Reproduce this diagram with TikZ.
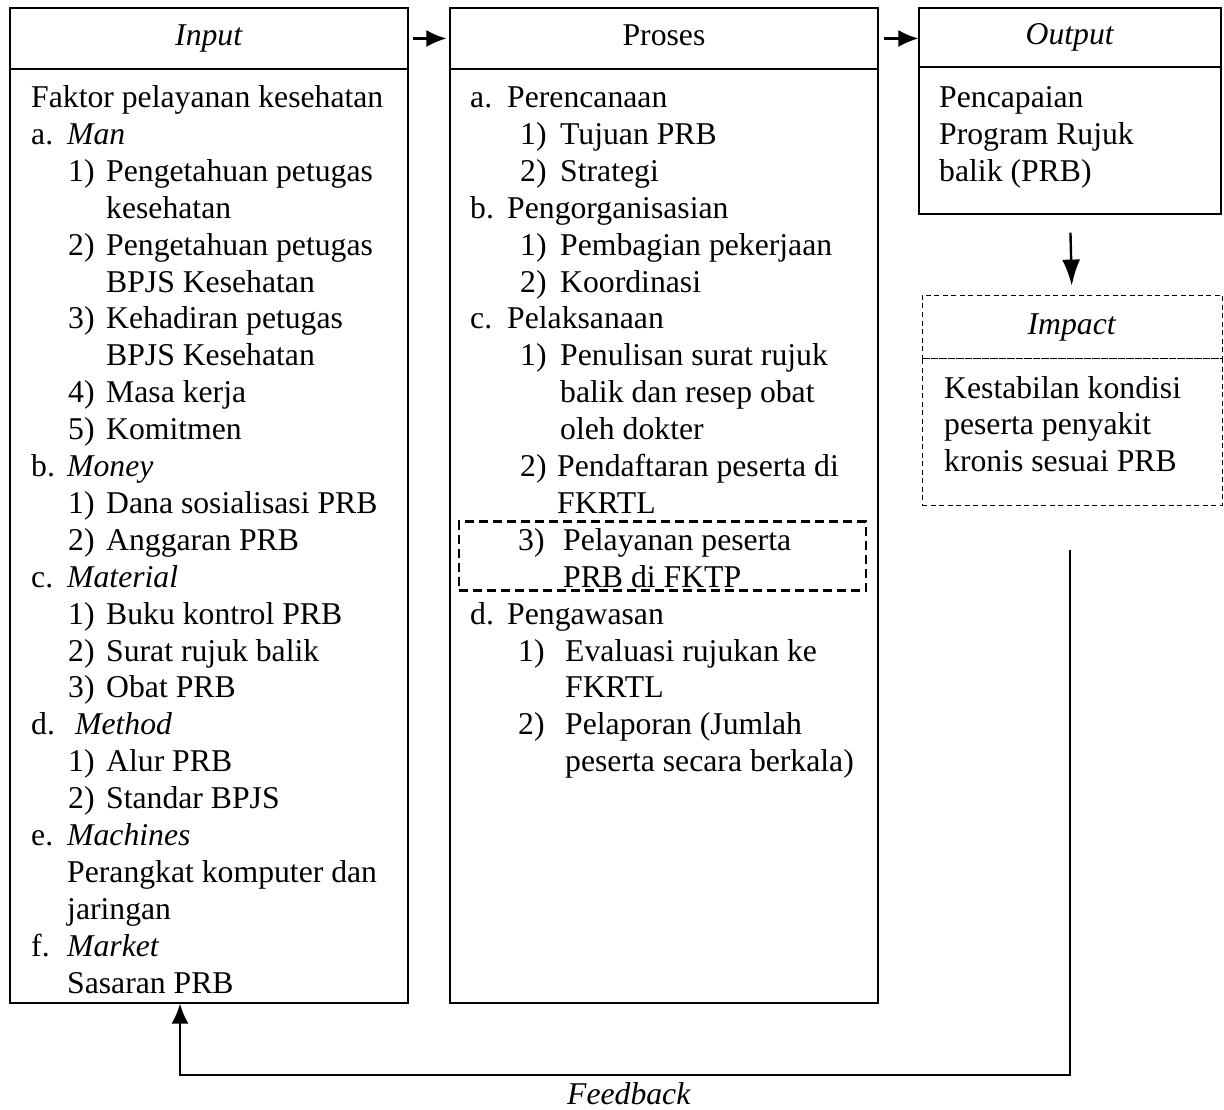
\documentclass[tikz,border=0pt]{standalone}
\usepackage{fontspec}
\setmainfont{Liberation Serif}
\usetikzlibrary{arrows.meta}
\tikzset{
  box/.style={draw, line width=1.2pt, inner sep=0pt, text height=22pt, text depth=7pt, font=\fontsize{31.7}{36}\selectfont},
  txt/.style={anchor=base west, inner sep=0pt, font=\fontsize{31.7}{36}\selectfont},
  arr/.style={line width=2.4pt, -{Latex[length=20pt,width=17pt]}}
}

\begin{document}
\begin{tikzpicture}[x=1pt,y=-1pt]
\useasboundingbox[fill=white] (0,0) rectangle (1224,1110);
% input
\node[box, minimum width=398pt, minimum height=61pt] (inhead) at (209,38.5) {\textit{Input}};
\node[box, minimum width=398pt, minimum height=934pt] (inbody) at (209,536) {};
\foreach \a/\b/\c/\d [count=\i] in {
 31//31/Faktor pelayanan kesehatan,
 31/a./67/\textit{Man},
 68/1)/106/Pengetahuan petugas,
 68//106/kesehatan,
 68/2)/106/Pengetahuan petugas,
 68//106/BPJS Kesehatan,
 68/3)/106/Kehadiran petugas,
 68//106/BPJS Kesehatan,
 68/4)/106/Masa kerja,
 68/5)/106/Komitmen,
 31/b./67/\textit{Money},
 68/1)/106/Dana sosialisasi PRB,
 68/2)/106/Anggaran PRB,
 31/c./67/\textit{Material},
 68/1)/106/Buku kontrol PRB,
 68/2)/106/Surat rujuk balik,
 68/3)/106/Obat PRB,
 31/d./75/\textit{Method},
 68/1)/106/Alur PRB,
 68/2)/106/Standar BPJS,
 31/e./67/\textit{Machines},
 67//67/Perangkat komputer dan,
 67//67/jaringan,
 31/f./67/\textit{Market},
 67//67/Sasaran PRB}{
  \pgfmathsetmacro\yy{70.6+36.9*\i}
  \node[txt] (inA\i) at (\a,\yy) {\b};
  \node[txt] (inB\i) at (\c,\yy) {\d};
}
% proses
\node[box, minimum width=428pt, minimum height=61pt] (prhead) at (664,38.5) {Proses};
\node[box, minimum width=428pt, minimum height=934pt] (prbody) at (664,536) {};
\node[draw, line width=2.6pt, dash pattern=on 9pt off 5pt, minimum width=407pt, minimum height=69pt] (pelay) at (662.5,556) {};
\foreach \a/\b/\c/\d [count=\i] in {
 470/a./507/Perencanaan,
 520/1)/560/Tujuan PRB,
 520/2)/560/Strategi,
 470/b./507/Pengorganisasian,
 520/1)/560/Pembagian pekerjaan,
 520/2)/560/Koordinasi,
 470/c./507/Pelaksanaan,
 520/1)/560/Penulisan surat rujuk,
 520//560/balik dan resep obat,
 520//560/oleh dokter,
 520/2)/557/Pendaftaran peserta di,
 520//557/FKRTL,
 518/3)/563/Pelayanan peserta,
 518//563/PRB di FKTP,
 470/d./507/Pengawasan,
 518/1)/565/Evaluasi rujukan ke,
 518//565/FKRTL,
 518/2)/565/Pelaporan (Jumlah,
 518//565/peserta secara berkala)}{
  \pgfmathsetmacro\yy{70.6+36.9*\i}
  \node[txt] (prA\i) at (\a,\yy) {\b};
  \node[txt] (prB\i) at (\c,\yy) {\d};
}
% output
\node[box, minimum width=302pt, minimum height=59pt] (outhead) at (1070,37.5) {\textit{Output}};
\node[box, minimum width=302pt, minimum height=147pt] (outbody) at (1070,140.5) {};
\foreach \d [count=\i] in {Pencapaian, Program Rujuk, balik (PRB)}{
  \pgfmathsetmacro\yy{70.6+36.9*\i}
  \node[txt] (out\i) at (939,\yy) {\d};
}
% impact
\node[box, line width=0.8pt, dash pattern=on 5pt off 3.5pt, minimum width=300pt, minimum height=63pt] (imphead) at (1072,326.5) {\textit{Impact}};
\node[box, line width=0.8pt, dash pattern=on 5pt off 3.5pt, minimum width=300pt, minimum height=147pt] (impbody) at (1072,431.5) {};
\foreach \d [count=\i] in {Kestabilan kondisi, peserta penyakit, kronis sesuai PRB}{
  \pgfmathsetmacro\yy{361.1+36.9*\i}
  \node[txt] (imp\i) at (944,\yy) {\d};
}
% arrows
\draw[arr, shorten <=4pt, shorten >=3pt] (inhead) -- (prhead);
\draw[arr, shorten <=5pt, shorten >=0pt] (prhead.east) -- (prhead.east -| outhead.west);
\draw[arr, -{Latex[length=26pt,width=18pt]}, shorten <=18pt, shorten >=9pt] (outbody.south) -- (imphead.north);
% feedback
\coordinate (fbstart) at (1070,550);
\coordinate (fbturn) at (1070,1075);
\draw[arr, line width=2pt] (fbstart) -- (fbturn) -| ([xshift=-29pt]inbody.south);
\node[txt, anchor=base] (fbtext) at (629,1104) {\textit{Feedback}};
\end{tikzpicture}
\end{document}
